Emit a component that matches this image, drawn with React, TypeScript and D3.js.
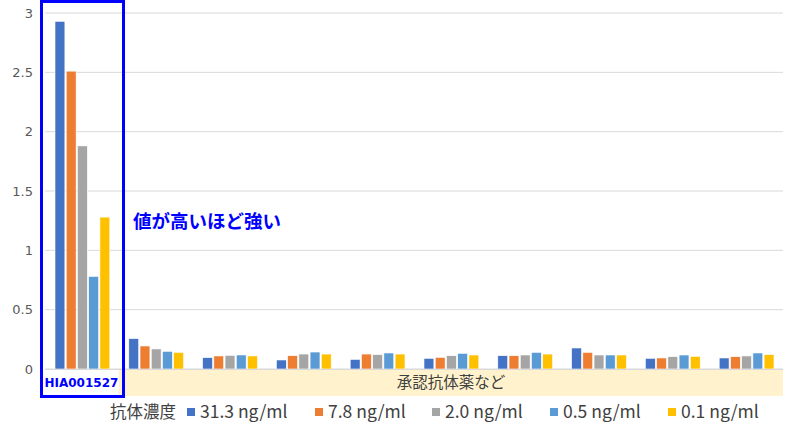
import React from "react";
import * as d3 from "d3";

const categories = ["HIA001527", "c2", "c3", "c4", "c5", "c6", "c7", "c8", "c9", "c10"];
const seriesNames = ["31.3 ng/ml", "7.8 ng/ml", "2.0 ng/ml", "0.5 ng/ml", "0.1 ng/ml"];
const seriesColors = ["#4472C4", "#ED7D31", "#A5A5A5", "#5B9BD5", "#FFC000"];
const s313 = [2.93, 0.256, 0.096, 0.076, 0.081, 0.09, 0.112, 0.177, 0.09, 0.093];
const s78 = [2.51, 0.194, 0.11, 0.112, 0.126, 0.098, 0.112, 0.14, 0.093, 0.104];
const s20 = [1.88, 0.169, 0.115, 0.126, 0.121, 0.112, 0.118, 0.118, 0.104, 0.11];
const s05 = [0.78, 0.149, 0.118, 0.143, 0.135, 0.132, 0.14, 0.118, 0.118, 0.135];
const s01 = [1.28, 0.14, 0.11, 0.126, 0.126, 0.118, 0.126, 0.118, 0.107, 0.121];
const yTicks = [0, 0.5, 1, 1.5, 2, 2.5, 3];
const legendTitle = "抗体濃度";
const groupLabel = "承認抗体薬など";
const annotation = "値が高いほど強い";

const series = [s313, s78, s20, s05, s01];

export default function App() {
  const W = 800, H = 432;
  const left = 45, right = 783, top = 13, bottom = 369;
  const y = d3.scaleLinear().domain([0, 3]).range([bottom, top]);
  const x0 = d3.scaleBand<string>().domain(categories).range([left, right]).padding(0);
  const step = x0.bandwidth();
  const x1 = d3.scaleBand<number>().domain(d3.range(5)).range([10, step - 9]).paddingInner(0.12);
  const font = "'Noto Sans CJK JP', 'Noto Sans', sans-serif";
  const legendX = [187, 315, 432, 550, 668];
  return (
    <svg width={W} height={H} style={{ position: "absolute", left: 0, top: 0, background: "#fff" }}>
      {yTicks.map((t) => (
        <g key={t}>
          <line x1={left} x2={right} y1={y(t)} y2={y(t)} stroke="#D9D9D9" strokeWidth={1} />
          <text x={33} y={y(t)} dy="0.35em" textAnchor="end" fontSize={13} fill="#595959" fontFamily="'DejaVu Sans', sans-serif">
            {t}
          </text>
        </g>
      ))}
      <rect x={x0(categories[1])!} y={bottom} width={right - x0(categories[1])!} height={27} fill="#FFF2CC" />
      <text x={(x0(categories[1])! + right) / 2} y={383} dy="0.35em" textAnchor="middle" fontSize={15.5} fill="#404040" fontFamily={font}>
        {groupLabel}
      </text>
      {categories.map((c, ci) => (
        <g key={c} transform={`translate(${x0(c)},0)`}>
          {series.map((s, si) => (
            <rect
              key={si}
              x={x1(si)!}
              y={y(s[ci])}
              width={x1.bandwidth()}
              height={bottom - y(s[ci])}
              fill={seriesColors[si]}
              stroke="#fff"
              strokeWidth={0.6}
            />
          ))}
        </g>
      ))}
      <line x1={left} x2={right} y1={bottom + 0.5} y2={bottom + 0.5} stroke="#D9D9D9" strokeWidth={1} />
      <text x={x0(categories[0])! + step / 2 - 0.5} y={383} dy="0.35em" textAnchor="middle" fontSize={12} fontWeight="bold" fill="#0000FF" fontFamily="'DejaVu Sans', sans-serif">
        {categories[0]}
      </text>
      <rect x={41.5} y={1.5} width={82} height={395} fill="none" stroke="#0000FF" strokeWidth={3} />
      <text x={133} y={222} dy="0.35em" fontSize={18.5} fontWeight="bold" fill="#0000FF" fontFamily={font}>
        {annotation}
      </text>
      <text x={110} y={412} dy="0.35em" fontSize={16.5} fill="#404040" fontFamily={font}>
        {legendTitle}
      </text>
      {seriesNames.map((n, i) => (
        <g key={n}>
          <rect x={legendX[i]} y={408} width={8} height={8} fill={seriesColors[i]} />
          <text x={legendX[i] + 13} y={412} dy="0.35em" fontSize={17.5} fill="#404040" fontFamily={font}>
            {n}
          </text>
        </g>
      ))}
    </svg>
  );
}
